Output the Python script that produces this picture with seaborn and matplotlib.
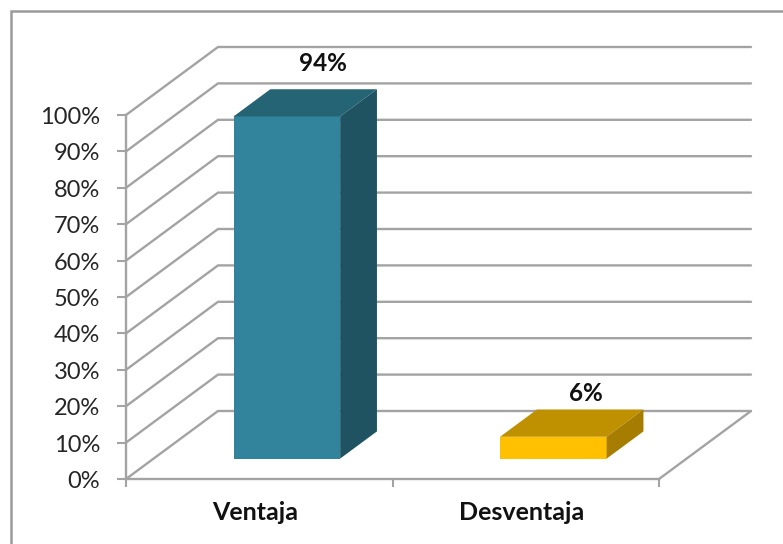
import matplotlib
matplotlib.use("Agg")
import matplotlib.pyplot as plt
from matplotlib.patches import Polygon
from matplotlib.lines import Line2D
from matplotlib.transforms import Affine2D, ScaledTranslation
import pandas as pd
import seaborn as sns

categories = ["Ventaja", "Desventaja"]
values = [94, 6]
front_colors = ["#31849B", "#FFC000"]
top_colors = ["#246474", "#BF9000"]
side_colors = ["#1F5361", "#A67D00"]
y_ticks = list(range(0, 101, 10))
y_labels = [f"{t}%" for t in y_ticks]

GRID = "#A3A3A3"
TEXT = "#262626"
FONT = "Lato"

sns.set_theme(style="white")
plt.rcParams["font.family"] = [FONT, "DejaVu Sans"]

W, H = 783, 544
fig = plt.figure(figsize=(W / 100, H / 100), dpi=100, facecolor="white")
ax = fig.add_axes([126 / W, (H - 479) / H, (659 - 126) / W, (479 - 115) / H])

df = pd.DataFrame({"cat": categories, "val": values})
sns.barplot(data=df, x="cat", y="val", hue="cat", palette=front_colors,
            width=0.40, legend=False, ax=ax, saturation=1, linewidth=0, zorder=3)

x0, x1 = -0.5, 1.5
ax.set_xlim(x0, x1)
ax.set_ylim(0, 100)
ax.set_xlabel("")
ax.set_ylabel("")

# oblique projection of the depth axis, in data units
depth_x = 92 / 266.5
depth_y = 68 / 3.64
front_gap = 0.30
bar_depth = 0.40

# back wall and side wall lines
for t in y_ticks:
    ax.plot([x0, x0 + depth_x, x1 + depth_x], [t, t + depth_y, t + depth_y],
            color=GRID, lw=1.7, clip_on=False, zorder=1, solid_joinstyle="miter")
ax.plot([x1, x1 + depth_x], [0, depth_y], color=GRID, lw=1.7, clip_on=False, zorder=1)

# extrude bars
shift = Affine2D().translate(front_gap * depth_x, front_gap * depth_y)
dx, dy = bar_depth * depth_x, bar_depth * depth_y
for i, p in enumerate(ax.patches):
    p.set_transform(shift + ax.transData)
    p.set_clip_on(False)
    xa, xb = p.get_x(), p.get_x() + p.get_width()
    yb, yt = p.get_y(), p.get_y() + p.get_height()
    xa += front_gap * depth_x
    xb += front_gap * depth_x
    yb += front_gap * depth_y
    yt += front_gap * depth_y
    ax.add_patch(Polygon([(xa, yt), (xb, yt), (xb + dx, yt + dy), (xa + dx, yt + dy)],
                         closed=True, fc=top_colors[i], ec="none", zorder=3, clip_on=False))
    ax.add_patch(Polygon([(xb, yb), (xb + dx, yb + dy), (xb + dx, yt + dy), (xb, yt)],
                         closed=True, fc=side_colors[i], ec="none", zorder=3, clip_on=False))

# value labels
label_offsets = [(45.5, 53), (43.5, 46)]
for i, v in enumerate(values):
    ax.annotate(f"{v}%", (i, v), xytext=label_offsets[i], textcoords="offset points",
                ha="center", va="center", fontsize=17.5, fontweight="bold",
                color="#111111", annotation_clip=False, zorder=5)

# axes furniture
sns.despine(ax=ax, top=True, right=True)
for s in ("left", "bottom"):
    ax.spines[s].set_color(GRID)
    ax.spines[s].set_linewidth(1.7)
    ax.spines[s].set_zorder(2)

ax.set_yticks(y_ticks, labels=y_labels)
ax.tick_params(axis="y", length=6.5, width=1.5, color=GRID, labelsize=17,
               labelcolor=TEXT, pad=12, left=True)
ax.set_xticks([x0, 0.5, x1], labels=["", "", ""])
ax.tick_params(axis="x", which="major", length=6, width=1.5, color=GRID, bottom=True)
ax.set_xticks([0, 1], labels=categories, minor=True)
ax.tick_params(axis="x", which="minor", length=0, pad=15.5, labelsize=18, labelcolor="#111111")
for lab in ax.get_xticklabels(minor=True):
    lab.set_fontweight("bold")
    lab.set_transform(lab.get_transform() + ScaledTranslation(-4 / 100, 0, fig.dpi_scale_trans))
for lab in ax.get_yticklabels():
    lab.set_transform(lab.get_transform() + ScaledTranslation(0, -0.5 / 100, fig.dpi_scale_trans))

# outer chart frame: only top and left edges are visible
fig.add_artist(Line2D([11 / W, 11 / W, 1], [0, 1 - 11 / H, 1 - 11 / H],
                      color="#9A9A9A", lw=1.8, solid_joinstyle="miter"))

fig.savefig("out.png", dpi=100, facecolor="white")
